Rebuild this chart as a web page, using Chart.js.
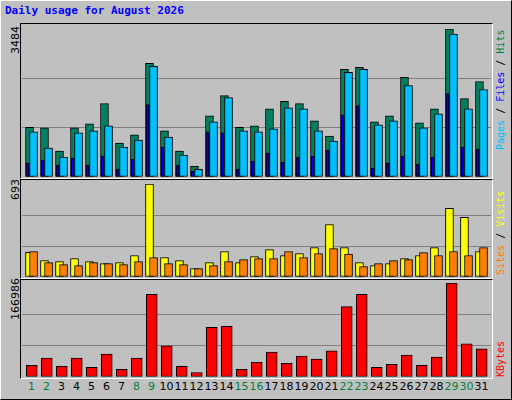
<!DOCTYPE html>
<html>
<head>
<meta charset="utf-8">
<script src="https://cdn.jsdelivr.net/npm/chart.js@4"></script>
<style>
  body { margin: 0; background: #fff; }
  #frame { position: absolute; left: 0; top: 0; width: 510px; height: 398px; background: #c0c0c0;
    border-top: 1px solid #fff; border-left: 1px solid #fff; border-right: 1px solid #000; border-bottom: 1px solid #000; }
  .panel { position: absolute; left: 20px; width: 471px; background: #c0c0c0;
    border-top: 1px solid #000; border-left: 1px solid #000; border-right: 1px solid #fff; border-bottom: 1px solid #fff; }
  .panel canvas { position: absolute; }
  .txt { position: absolute; font: bold 11px "DejaVu Sans Mono", monospace; white-space: nowrap; }
  .side { font: 10px "DejaVu Sans Mono", monospace; }
  .rot { transform-origin: 0 0; transform: rotate(-90deg); }
  .lab { font: 11px "DejaVu Sans", sans-serif; position: absolute; top: 380px; transform: translateX(-50%); }
</style>
</head>
<body>
<div id="frame"></div>
<div class="txt" style="left:5px;top:4px;color:#0000ff">Daily usage for August 2026</div>

<div class="panel" style="top:23px;height:154px"><div style="position:absolute;left:1px;top:5px;width:469px;height:148px"><canvas id="c1"></canvas></div></div>
<div class="panel" style="top:179px;height:98px"><div style="position:absolute;left:1px;top:4px;width:469px;height:93px"><canvas id="c2"></canvas></div></div>
<div class="panel" style="top:279px;height:98px"><div style="position:absolute;left:1px;top:3px;width:469px;height:94px"><canvas id="c3"></canvas></div></div>

<div class="txt rot" style="left:9px;top:54px;font-weight:normal;font-family:'DejaVu Sans';font-size:11px">3484</div>
<div class="txt rot" style="left:9px;top:200px;font-weight:normal;font-family:'DejaVu Sans';font-size:11px">693</div>
<div class="txt rot" style="left:9px;top:320px;font-weight:normal;font-family:'DejaVu Sans';font-size:11px">166986</div>
<div class="txt side rot" style="left:495px;top:150px"><span style="color:#00c0ff">Pages</span> / <span style="color:#0000ff">Files</span> / <span style="color:#008040">Hits</span></div>
<div class="txt side rot" style="left:495px;top:275px"><span style="color:#ff8000">Sites</span> / <span style="color:#ffff00">Visits</span></div>
<div class="txt side rot" style="left:495px;top:377px;color:#ff0000">KBytes</div>
<div id="labels"></div>

<script>
const days = Array.from({length: 31}, (_, i) => i + 1);
const weekendDays = [1, 2, 8, 9, 15, 16, 22, 23, 29, 30];

const hits = [1172,1156,610,1156,1251,1726,800,990,2676,1085,610,253,1441,1916,1172,1204,1607,1782,1726,1322,966,2534,2581,1299,1441,2344,1275,1607,3484,1845,2249];
const files = [1061,681,467,1037,1085,1204,705,871,2605,942,515,182,1299,1869,1085,1061,1132,1631,1607,1085,847,2463,2534,1227,1322,2154,1156,1489,3365,1607,2059];
const pages = [325,396,277,443,277,491,182,420,1702,705,277,135,1061,1037,182,372,562,348,467,491,633,1465,1679,206,325,491,301,467,1964,705,657];
const visits = [183,122,115,137,115,100,107,160,693,145,122,62,107,190,107,152,204,160,175,219,391,219,107,85,100,137,160,219,511,444,190];
const sites = [190,107,92,85,107,100,92,115,145,100,92,62,85,115,130,137,137,190,145,175,212,170,77,100,122,130,182,160,190,160,219];
const kbytes = [20720,33520,18890,33520,17060,40830,13410,33520,146870,55460,18890,7920,88370,90200,13410,26210,44490,24380,37180,31690,46320,124940,146870,17060,22550,39000,20720,35350,166986,59120,49970];

function ds(values, shift, color, width, order) {
  return {
    data: values.map((v, i) => ({ x: days[i] + shift, y: v })),
    backgroundColor: color, borderColor: '#000', borderWidth: 1,
    barThickness: width, order: order, grouped: false, borderSkipped: false
  };
}

function makeChart(id, max, datasets) {
  new Chart(document.getElementById(id), {
    type: 'bar',
    data: { datasets },
    options: {
      responsive: true, maintainAspectRatio: false, animation: false,
      layout: { padding: 0 },
      plugins: { legend: { display: false }, tooltip: { enabled: false } },
      scales: {
        x: { type: 'linear', min: 0.5, max: 31.77, offset: false, display: false },
        y: { min: 0, max: max, display: true,
          ticks: { display: false, stepSize: max / 3 },
          grid: { color: ctx => ctx.index === 0 || ctx.index === 3 ? 'rgba(0,0,0,0)' : '#808080', drawTicks: false, lineWidth: 1 },
          border: { display: false } }
      }
    }
  });
}

makeChart('c1', 3484, [
  ds(hits, 0, '#008060', 8, 3),
  ds(files, 0.27, '#00c0ff', 8, 2),
  ds(pages, -0.13, '#0000ff', 3, 1)
]);
makeChart('c2', 693, [
  ds(visits, 0, '#ffff00', 8, 2),
  ds(sites, 0.27, '#ff8000', 8, 1)
]);
makeChart('c3', 166986, [
  ds(kbytes, 0.15, '#ff0000', 11, 1)
]);

const lab = document.getElementById('labels');
days.forEach(d => {
  const s = document.createElement('span');
  s.className = 'lab';
  s.textContent = d;
  s.style.left = (21 + (d - 0.5) * 15 + 3) + 'px';
  s.style.color = weekendDays.includes(d) ? '#008040' : '#000';
  lab.appendChild(s);
});
</script>
</body>
</html>
